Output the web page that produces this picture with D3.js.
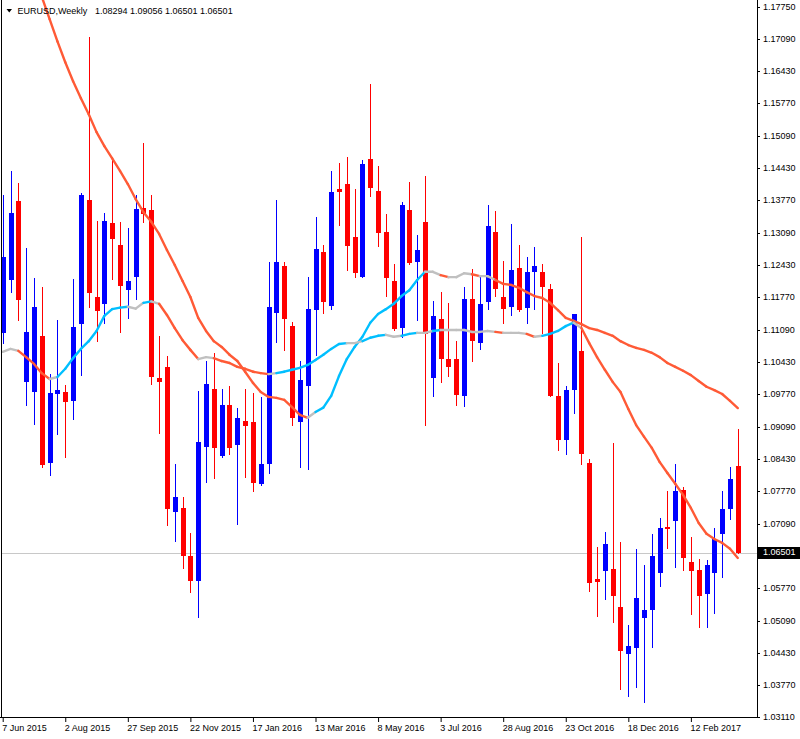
<!DOCTYPE html>
<html><head><meta charset="utf-8">
<script src="https://cdn.jsdelivr.net/npm/d3@7"></script>
<style>body{margin:0;background:#fff}svg{display:block}</style>
</head><body><svg id="c" width="800" height="739"></svg>
<script>
const symbolTitle = "EURUSD,Weekly";
const lastOHLC = "1.08294 1.09056 1.06501 1.06501";
const currentPrice = 1.06501;
const startWeek = "7 Jun 2015", endWeek = "26 Mar 2017";

const opens = [1.1103,1.1212,1.1375,1.1002,1.0981,1.1097,1.0835,1.0977,1.0981,1.0963,
1.1122,1.1377,1.1177,1.1163,1.1330,1.1284,1.1191,1.1218,1.1361,1.1356,
1.1010,1.1033,1.0733,1.0742,1.0643,1.0591,1.0868,1.0987,1.0850,1.0955,
1.0872,1.0922,1.0920,1.0792,1.0833,1.1144,1.1241,1.1117,1.0920,1.0994,
1.1150,1.1270,1.1159,1.1399,1.1410,1.1301,1.1218,1.1461,1.1395,1.1311,
1.1210,1.1113,1.1356,1.1249,1.1332,1.1010,1.1132,1.1049,1.1049,1.0973,
1.1173,1.1082,1.1167,1.1311,1.1177,1.1157,1.1237,1.1155,1.1229,1.1229,
1.1193,1.0973,1.0883,1.0985,1.1066,1.0835,1.0595,1.0612,1.0616,1.0538,
1.0441,1.0453,1.0515,1.0531,1.0608,1.0702,1.0715,1.0779,1.0630,1.0614,
1.0564,1.0608,1.0688,1.0739,1.08294];
const highs = [1.1387,1.1437,1.1412,1.1278,1.1216,1.1198,1.1018,1.1130,1.0996,1.1214,
1.1391,1.1713,1.1334,1.1350,1.1465,1.1332,1.1319,1.1387,1.1494,1.1387,
1.1097,1.1056,1.0833,1.0765,1.0690,1.0983,1.1045,1.1062,1.0987,1.0994,
1.0949,1.0987,1.0979,1.0971,1.1249,1.1377,1.1249,1.1126,1.1045,1.1218,
1.1342,1.1284,1.1437,1.1453,1.1465,1.1399,1.1459,1.1616,1.1447,1.1348,
1.1245,1.1373,1.1414,1.1305,1.1426,1.1169,1.1187,1.1165,1.1086,1.1198,
1.1235,1.1222,1.1367,1.1354,1.1251,1.1328,1.1284,1.1259,1.1280,1.1245,
1.1204,1.1041,1.0994,1.1142,1.1301,1.0843,1.0661,1.0692,1.0876,1.0671,
1.0500,1.0657,1.0624,1.0688,1.0721,1.0777,1.0833,1.0785,1.0682,1.0636,
1.0634,1.0700,1.0777,1.0827,1.09056];
const lows = [1.1082,1.1187,1.1130,1.0955,1.0916,1.0827,1.0810,1.0895,1.0847,1.0926,
1.1016,1.1157,1.1086,1.1124,1.1214,1.1105,1.1134,1.1173,1.1332,1.0998,
1.0897,1.0706,1.0673,1.0618,1.0568,1.0517,1.0796,1.0804,1.0847,1.0854,
1.0709,1.0806,1.0777,1.0790,1.0814,1.1084,1.1068,1.0913,1.0827,1.0823,
1.1058,1.1144,1.1152,1.1325,1.1233,1.1218,1.1218,1.1385,1.1282,1.1179,
1.1109,1.1095,1.1245,1.1130,1.0913,1.0973,1.1002,1.1014,1.0955,1.0953,
1.1045,1.1070,1.1152,1.1179,1.1124,1.1140,1.1148,1.1124,1.1152,1.1103,
1.0973,1.0862,1.0854,1.0938,1.0833,1.0570,1.0519,1.0554,1.0507,1.0368,
1.0354,1.0373,1.0342,1.0455,1.0581,1.0659,1.0620,1.0614,1.0523,1.0496,
1.0496,1.0525,1.0599,1.0719,1.06501];
const closes = [1.1259,1.1350,1.1171,1.1105,1.1157,1.0831,1.0979,1.0985,1.0961,1.1115,
1.1387,1.1185,1.1148,1.1334,1.1297,1.1200,1.1210,1.1358,1.1348,1.1012,
1.1002,1.0739,1.0765,1.0643,1.0591,1.0878,1.0998,1.0866,1.0955,1.0866,
1.0928,1.0911,1.0794,1.0833,1.1157,1.1249,1.1132,1.0928,1.1006,1.1152,
1.1276,1.1167,1.1393,1.1393,1.1282,1.1226,1.1451,1.1402,1.1309,1.1216,
1.1111,1.1367,1.1247,1.1274,1.1101,1.1138,1.1049,1.1033,1.0975,1.1173,
1.1086,1.1163,1.1323,1.1193,1.1152,1.1233,1.1150,1.1228,1.1241,1.1198,
1.0973,1.0883,1.0985,1.1142,1.0854,1.0587,1.0589,1.0667,1.0560,1.0447,
1.0457,1.0556,1.0531,1.0643,1.0700,1.0698,1.0777,1.0638,1.0612,1.0560,
1.0624,1.0678,1.0739,1.0802,1.06501];
// slow moving average
const maSlow = [1.2025,1.1979,1.1934,1.1888,1.1841,1.1796,1.1750,1.1704,1.1661,1.1622,
1.1587,1.1554,1.1517,1.1488,1.1463,1.1437,1.1410,1.1379,1.1352,1.1332,
1.1307,1.1274,1.1243,1.1210,1.1177,1.1134,1.1107,1.1086,1.1074,1.1058,
1.1045,1.1023,1.1000,1.0981,1.0971,1.0969,1.0965,1.0950,1.0934,1.0928,
1.0940,1.0949,1.0973,1.1014,1.1049,1.1074,1.1095,1.1124,1.1142,1.1152,
1.1163,1.1179,1.1191,1.1212,1.1229,1.1229,1.1222,1.1218,1.1218,1.1226,
1.1224,1.1220,1.1220,1.1212,1.1204,1.1202,1.1196,1.1187,1.1179,1.1175,
1.1165,1.1150,1.1134,1.1128,1.1121,1.1113,1.1109,1.1103,1.1097,1.1086,
1.1078,1.1072,1.1068,1.1062,1.1053,1.1041,1.1033,1.1025,1.1016,1.1004,
1.0992,1.0985,1.0977,1.0963,1.0948];
// fast moving average
const maFast = [1.1064,1.1070,1.1066,1.1053,1.1039,1.1020,1.1008,1.1012,1.1029,1.1051,
1.1070,1.1086,1.1107,1.1138,1.1152,1.1155,1.1157,1.1153,1.1165,1.1168,
1.1163,1.1140,1.1113,1.1088,1.1068,1.1049,1.1053,1.1051,1.1045,1.1041,
1.1033,1.1029,1.1023,1.1020,1.1018,1.1020,1.1023,1.1027,1.1031,1.1037,
1.1047,1.1058,1.1070,1.1080,1.1082,1.1082,1.1086,1.1093,1.1097,1.1099,
1.1095,1.1097,1.1101,1.1103,1.1103,1.1107,1.1109,1.1109,1.1109,1.1109,
1.1105,1.1105,1.1107,1.1105,1.1103,1.1103,1.1103,1.1101,1.1095,1.1097,
1.1101,1.1107,1.1117,1.1124,1.1113,1.1082,1.1053,1.1027,1.1002,1.0981,
1.0946,1.0913,1.0889,1.0866,1.0837,1.0814,1.0792,1.0769,1.0742,1.0711,
1.0689,1.0678,1.0670,1.0658,1.0639];

const xTickLabels = ["7 Jun 2015","2 Aug 2015","27 Sep 2015","22 Nov 2015","17 Jan 2016","13 Mar 2016",
"8 May 2016","3 Jul 2016","28 Aug 2016","23 Oct 2016","18 Dec 2016","12 Feb 2017"];
const yTickLabels = ["1.17750","1.17090","1.16430","1.15770","1.15090","1.14430","1.13770","1.13090",
"1.12430","1.11770","1.11090","1.10430","1.09770","1.09090","1.08430","1.07770","1.07090","1.06430",
"1.05770","1.05090","1.04430","1.03770","1.03110"];

const FONT = "'Liberation Sans', Arial, sans-serif";
const BULL = "#0000FF", BEAR = "#FF0000";
const UP = "#00BFFF", DOWN = "#FF5A36", FLAT = "#C0C0C0";

const parse = d3.timeParse("%d %b %Y");
const dates = d3.timeWeek.range(parse(startWeek), d3.timeDay.offset(parse(endWeek), 1));
const bars = dates.map((d, i) => ({date: d, o: opens[i], h: highs[i], l: lows[i], c: closes[i]}));

const L = 2, R = 757, T = 0, B = 717;
const x = d3.scaleTime().domain([dates[0], dates[dates.length - 1]]).range([2.7, 737.8]);
const y = d3.scaleLinear().domain([1.03110, 1.17750]).range([717, 7]);

const svg = d3.select("#c");
svg.append("rect").attr("width", 800).attr("height", 739).attr("fill", "#fff");
svg.append("defs").append("clipPath").attr("id", "clip")
  .append("rect").attr("x", L).attr("y", T).attr("width", R - L).attr("height", B - T);

const plot = svg.append("g").attr("clip-path", "url(#clip)");

// current price line (background)
plot.append("line").attr("x1", L).attr("x2", R)
  .attr("y1", Math.round(y(currentPrice)) + 0.5).attr("y2", Math.round(y(currentPrice)) + 0.5)
  .attr("stroke", "#C8C8C8").attr("stroke-width", 1);

// candles
const cx = d => Math.round(x(d.date));
plot.append("g").attr("shape-rendering", "crispEdges").selectAll("line").data(bars).join("line")
  .attr("x1", d => cx(d) + 0.5).attr("x2", d => cx(d) + 0.5)
  .attr("y1", d => Math.round(y(d.h))).attr("y2", d => Math.round(y(d.l)) + 1)
  .attr("stroke", d => d.c >= d.o ? BULL : BEAR).attr("stroke-width", 1);
plot.append("g").attr("shape-rendering", "crispEdges").selectAll("rect").data(bars).join("rect")
  .attr("x", d => cx(d) - 2).attr("width", 5)
  .attr("y", d => Math.round(y(Math.max(d.o, d.c))))
  .attr("height", d => Math.max(1, Math.round(y(Math.min(d.o, d.c))) - Math.round(y(Math.max(d.o, d.c)))))
  .attr("fill", d => d.c >= d.o ? BULL : BEAR);

// coloured moving averages
function maSegments(vals) {
  const dir = vals.map((v, i) => i === 0 ? 0 : (v > vals[i - 1] ? 1 : (v < vals[i - 1] ? -1 : 0)));
  const segs = [];
  for (let i = 1; i < vals.length; i++) {
    let col = FLAT;
    if (i > 1 && dir[i] === 1 && dir[i - 1] === 1) col = UP;
    else if (i > 1 && dir[i] === -1 && dir[i - 1] === -1) col = DOWN;
    segs.push({x1: x(dates[i - 1]), y1: y(vals[i - 1]), x2: x(dates[i]), y2: y(vals[i]), col});
  }
  return segs;
}
[maSlow, maFast].forEach(vals => {
  plot.append("g").selectAll("line").data(maSegments(vals)).join("line")
    .attr("x1", d => d.x1).attr("y1", d => d.y1).attr("x2", d => d.x2).attr("y2", d => d.y2)
    .attr("stroke", d => d.col).attr("stroke-width", 2.4).attr("stroke-linecap", "round");
});

// frame
const frame = svg.append("g").attr("stroke", "#000").attr("stroke-width", 1).attr("shape-rendering", "crispEdges");
frame.append("line").attr("x1", 1.5).attr("x2", 1.5).attr("y1", 0).attr("y2", B + 0.5);
frame.append("line").attr("x1", 0).attr("x2", R + 0.5).attr("y1", B + 0.5).attr("y2", B + 0.5);
frame.append("line").attr("x1", R + 0.5).attr("x2", R + 0.5).attr("y1", 0).attr("y2", B + 0.5);

// y axis
const yAxis = d3.axisRight(y).tickValues(yTickLabels.map(Number))
  .tickFormat((d, i) => yTickLabels[i]).tickSize(3).tickPadding(3).tickSizeOuter(0);
const gy = svg.append("g").attr("transform", `translate(${R},0)`).call(yAxis);
gy.select(".domain").remove();
gy.attr("font-family", FONT).attr("font-size", 9);
gy.selectAll("line").attr("stroke", "#000");
gy.selectAll("text").attr("fill", "#000");

// x axis
const xAxis = d3.axisBottom(x).tickValues(xTickLabels.map(parse))
  .tickFormat((d, i) => xTickLabels[i]).tickSize(5).tickPadding(3).tickSizeOuter(0);
const gx = svg.append("g").attr("transform", `translate(0,${B})`).call(xAxis);
gx.select(".domain").remove();
gx.attr("font-family", FONT).attr("font-size", 9);
gx.selectAll("line").attr("stroke", "#000");
gx.selectAll("text").attr("fill", "#000").attr("text-anchor", "start").attr("x", -1);

// current price label (drawn over the axis, hiding the tick label beneath as in the reference)
const py = y(currentPrice);
svg.append("rect").attr("x", 758).attr("y", Math.round(py) - 6).attr("width", 42).attr("height", 12).attr("fill", "#000");
svg.append("text").attr("x", 763).attr("y", py).attr("dy", "0.32em")
  .attr("font-family", FONT).attr("font-size", 9).attr("fill", "#fff").text(d3.format(".5f")(currentPrice));

// header
svg.append("path").attr("d", "M6.5,9 L12,9 L9.25,12.5 Z").attr("fill", "#000");
svg.append("text").attr("x", 17.5).attr("y", 13.5).attr("font-family", FONT).attr("font-size", 9)
  .attr("fill", "#000").text(symbolTitle);
svg.append("text").attr("x", 95).attr("y", 13.5).attr("font-family", FONT).attr("font-size", 9)
  .attr("fill", "#000").text(lastOHLC);
</script></body></html>
